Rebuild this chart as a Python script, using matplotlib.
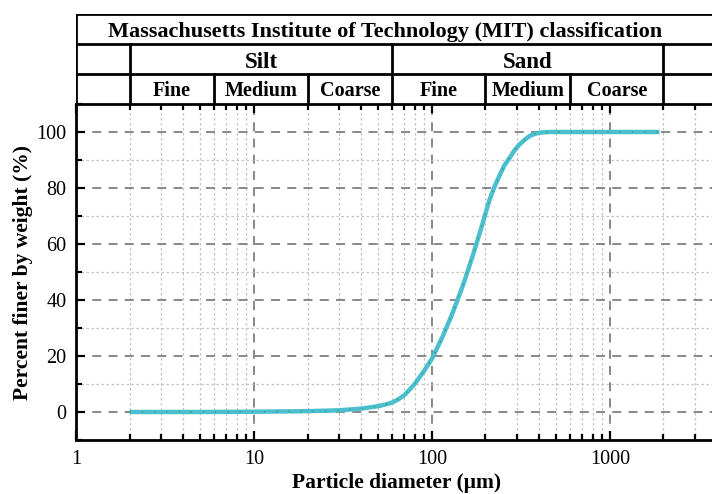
import numpy as np
import matplotlib
matplotlib.use('Agg')
from matplotlib import pyplot as plt
from matplotlib.ticker import LogLocator, MultipleLocator, FixedLocator, NullFormatter

plt.rcParams['font.family'] = ['Liberation Serif', 'DejaVu Serif']

# particle size distribution
diameter = [2, 5, 10, 20, 30, 40, 50, 55, 60, 65, 70, 75, 80, 90, 100, 115, 130, 150, 170,
            190, 210, 225, 240, 255, 275, 290, 310, 330, 355, 380, 410, 450, 500, 1000, 1900]
percent = [0, 0, 0.1, 0.3, 0.6, 1.2, 2.1, 2.7, 3.4, 4.6, 6, 8, 10, 14.5, 19, 27, 35, 45.5, 56,
           66, 75.5, 80.5, 84.5, 88, 91, 93.3, 95.5, 97.1, 98.6, 99.4, 99.8, 100, 100, 100, 100]

# MIT classification bounds (um)
silt_bounds = [2, 6, 20, 60]
sand_bounds = [60, 200, 600, 2000]
sub_names = ['Fine', 'Medium', 'Coarse']
title = 'Massachusetts Institute of Technology (MIT) classification'

W, H = 712, 494
fig = plt.figure(figsize=(W / 100, H / 100), dpi=100)
x0, x1 = 76, 717
ax = fig.add_axes([x0 / W, (H - 440) / H, (x1 - x0) / W, (440 - 104) / H])
hd = fig.add_axes([x0 / W, (H - 104) / H, (x1 - x0) / W, (104 - 14) / H])

xlim = (1, 4000)

ax.set_xscale('log')
ax.set_xlim(*xlim)
ax.set_ylim(-10, 110)
ax.plot(diameter, percent, color='#4bbfcf', lw=3.2, solid_capstyle='butt', zorder=3)
ax.plot(diameter, percent, color='#2f9a3a', lw=1.0, ls=(0, (0.8, 8)), zorder=4)

ax.xaxis.set_major_locator(FixedLocator([1, 10, 100, 1000]))
ax.xaxis.set_minor_locator(LogLocator(base=10, subs=np.arange(2, 10)))
ax.xaxis.set_minor_formatter(NullFormatter())
ax.set_xticklabels(['1', '10', '100', '1000'])
ax.yaxis.set_major_locator(MultipleLocator(20))
ax.yaxis.set_minor_locator(MultipleLocator(10))

ax.grid(which='major', color='#7f7f7f', ls=(0, (5, 4)), lw=1.3)
ax.grid(which='minor', color='#c4c4c4', ls=(0, (2, 2)), lw=0.9)
ax.set_axisbelow(True)

ax.tick_params(which='both', direction='in', top=True, right=False, width=1.6, labelsize=14.5)
ax.tick_params(which='major', length=6.5, pad=7)
ax.tick_params(which='minor', length=4)
for s in ['left', 'bottom', 'top']:
    ax.spines[s].set_linewidth(2)
ax.spines['right'].set_visible(False)

ax.set_xlabel('Particle diameter (\u03bcm)', fontsize=15.5, fontweight='bold', labelpad=3)
ax.set_ylabel('Percent finer by weight (%)', fontsize=15.5, fontweight='bold', labelpad=2)

# header table
hd.set_xscale('log')
hd.set_xlim(*xlim)
hd.set_ylim(0, 3)
hd.axis('off')
lk = dict(color='black', lw=2, solid_capstyle='projecting')
hd.plot([1, 1], [0, 3], **lk)
hd.plot([1, xlim[1]], [3, 3], **lk)
hd.plot([1, xlim[1]], [2, 2], **lk)
hd.plot([1, xlim[1]], [1, 1], **lk)
for b in [2, 60, 2000]:
    hd.plot([b, b], [0, 2], **lk)
for b in silt_bounds[1:-1] + sand_bounds[1:-1]:
    hd.plot([b, b], [0, 1], **lk)

def gmid(a, b):
    return 10 ** ((np.log10(a) + np.log10(b)) / 2)

hd.text(10 ** (309 / 178), 2.4, title, ha='center', va='center', fontsize=16, fontweight='bold')
hd.text(gmid(2, 60), 1.4, 'Silt', ha='center', va='center', fontsize=16.5, fontweight='bold')
hd.text(gmid(60, 2000), 1.4, 'Sand', ha='center', va='center', fontsize=16.5, fontweight='bold')
for bounds in [silt_bounds, sand_bounds]:
    for i, name in enumerate(sub_names):
        hd.text(gmid(bounds[i], bounds[i + 1]), 0.42, name, ha='center', va='center',
                fontsize=14.5, fontweight='bold')

fig.savefig('out.png', dpi=100)
